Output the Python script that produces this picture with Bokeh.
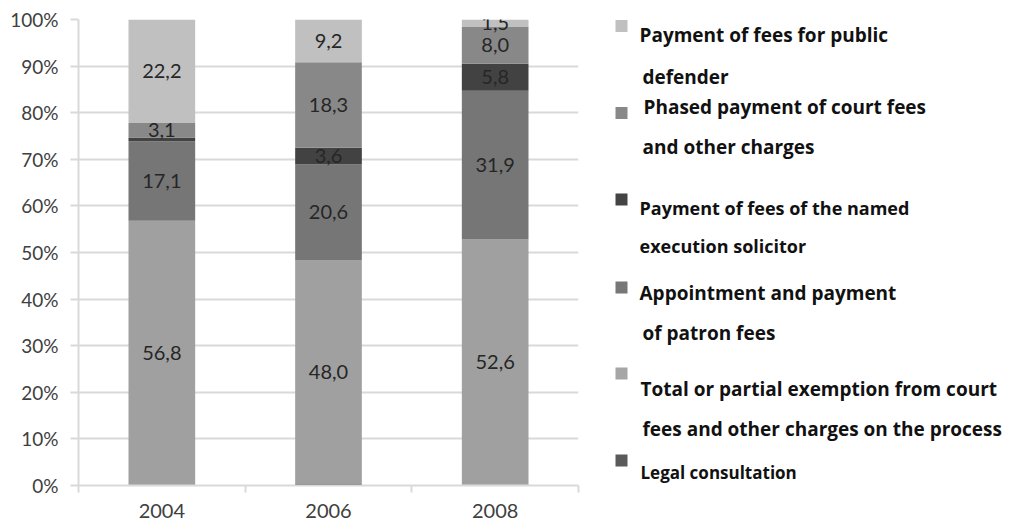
import numpy as np
from bokeh.plotting import figure
from bokeh.models import ColumnDataSource, Range1d, FixedTicker, PrintfTickFormatter
from bokeh.layouts import row
from bokeh.core.properties import value
from bokeh.embed import file_html
from bokeh.resources import INLINE

# ---------------- data ----------------
years = ["2004", "2006", "2008"]
# stacking order, bottom -> top
series_keys = ["legal", "exemption", "patron", "solicitor", "phased", "defender"]
series_names = [
    "Legal consultation",
    "Total or partial exemption from court\nfees and other charges on the process",
    "Appointment and payment\nof patron fees",
    "Payment of fees of the named\nexecution solicitor",
    "Phased payment of court fees\nand other charges",
    "Payment of fees for public\ndefender",
]
legal = [0.0, 0.3, 0.2]
exemption = [56.8, 48.0, 52.6]
patron = [17.1, 20.6, 31.9]
solicitor = [0.8, 3.6, 5.8]
phased = [3.1, 18.3, 8.0]
defender = [22.2, 9.2, 1.5]
y_ticks = list(range(0, 101, 10))

bar_colors = ["#595959", "#a0a0a0", "#767676", "#424242", "#888888", "#c0c0c0"]
legend_colors = ["#5a5a5a", "#a6a6a6", "#777777", "#444444", "#888888", "#c0c0c0"]

values = [legal, exemption, patron, solicitor, phased, defender]
xpos = np.arange(len(years)) + 0.5

src = ColumnDataSource(dict(x=xpos, **{k: v for k, v in zip(series_keys, values)}))

# ---------------- main chart ----------------
p = figure(frame_width=500, frame_height=466, min_border_left=78, min_border_right=12,
           min_border_top=19, min_border_bottom=38,
           x_range=Range1d(0, 3), y_range=Range1d(0, 100),
           output_backend="svg", toolbar_location=None, tools="")
p.outline_line_color = None
p.background_fill_color = "white"

p.vbar_stack(series_keys, x="x", width=0.4, source=src, color=bar_colors, line_color=None)

# segment labels
arr = np.array(values)
cum = np.cumsum(arr, axis=0)
mids = cum - arr / 2
lx, ly, lt = [], [], []
for i in range(arr.shape[0]):
    for j in range(arr.shape[1]):
        if arr[i, j] >= 1.0:
            lx.append(xpos[j])
            ly.append(mids[i, j])
            lt.append(f"{arr[i, j]:.1f}".replace(".", ","))
p.text(x=lx, y=ly, text=lt, text_align="center", text_baseline="middle",
       text_font=value("Lato"), text_font_size="20px", text_color="#262626")

# axes
p.xgrid.visible = False
p.ygrid.ticker = FixedTicker(ticks=y_ticks)
p.ygrid.grid_line_color = "#d9d9d9"
p.ygrid.grid_line_width = 2

p.yaxis.ticker = FixedTicker(ticks=y_ticks)
p.yaxis.formatter = PrintfTickFormatter(format="%d%%")
p.yaxis.axis_line_color = "#d9d9d9"
p.yaxis.axis_line_width = 2
p.yaxis.major_tick_line_color = "#d9d9d9"
p.yaxis.major_tick_line_width = 2
p.yaxis.major_tick_out = 8
p.yaxis.major_tick_in = 0
p.yaxis.minor_tick_line_color = None
p.yaxis.major_label_standoff = 12
p.yaxis.major_label_text_font = "Lato"
p.yaxis.major_label_text_font_size = "19px"
p.yaxis.major_label_text_color = "#404040"

p.xaxis.ticker = FixedTicker(ticks=list(xpos), minor_ticks=list(np.arange(len(years) + 1)))
p.xaxis.major_label_overrides = {float(x): y for x, y in zip(xpos, years)}
p.xaxis.axis_line_color = "#d9d9d9"
p.xaxis.axis_line_width = 2
p.xaxis.major_tick_line_color = None
p.xaxis.major_tick_out = 0
p.xaxis.major_tick_in = 0
p.xaxis.minor_tick_line_color = "#d9d9d9"
p.xaxis.minor_tick_line_width = 2
p.xaxis.minor_tick_out = 7
p.xaxis.minor_tick_in = 0
p.xaxis.major_label_standoff = 11
p.xaxis.major_label_text_font = "Lato"
p.xaxis.major_label_text_font_size = "20px"
p.xaxis.major_label_text_color = "#404040"

# ---------------- legend panel (page-pixel coordinates) ----------------
# the row aligns this panel's frame with the chart's frame (page y 19..485)
leg = figure(width=429, height=523, x_range=Range1d(590, 1019), y_range=Range1d(485, 19),
             output_backend="svg", toolbar_location=None, tools="", min_border=0)
leg.axis.visible = False
leg.grid.visible = False
leg.outline_line_color = None

# layout: (square y, [line y positions], [line x positions], font size) top -> bottom
legend_layout = [
    (25.5, [34, 76], [639, 642], "19px"),
    (112.5, [106, 146], [643, 642], "19px"),
    (199, [207, 245], [639, 639], "18px"),
    (287, [292, 332], [639, 642], "19px"),
    (373, [388, 428], [640, 642], "19px"),
    (460, [472], [640], "17px"),
]
order = list(range(len(series_names)))[::-1]
for (sqy, lys, lxs, fs), idx in zip(legend_layout, order):
    leg.scatter(x=[621], y=[sqy], marker="square", size=12,
                fill_color=legend_colors[idx], line_color=None)
    lines = series_names[idx].split("\n")
    leg.text(x=lxs, y=lys, text=lines, text_baseline="middle", text_align="left",
             text_font=value("Open Sans"), text_font_style="bold", text_font_size=fs,
             text_color="#111111")

layout = row(p, leg)
open("out.html", "w").write(file_html(layout, INLINE))
